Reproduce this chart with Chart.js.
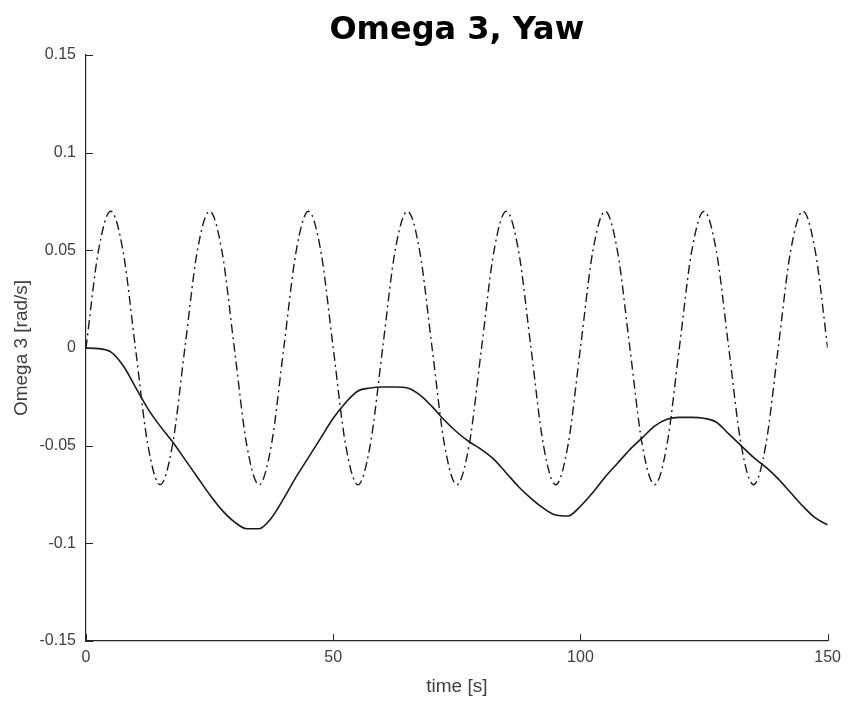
<!DOCTYPE html>
<html>
<head>
<meta charset="utf-8">
<script src="https://cdn.jsdelivr.net/npm/chart.js@4/dist/chart.umd.min.js"></script>
<style>
  html, body { margin: 0; padding: 0; background: #fff; }
  canvas { display: block; }
</style>
</head>
<body>
<canvas id="omegaChart" width="848" height="702"></canvas>
<script>
// time axis samples (s)
const times = [0, 2.5, 5, 7.5, 10, 12.5, 15, 17.5, 20, 22.5, 25, 27.5, 30, 32.5, 35, 37.5, 40, 42.5, 45, 47.5,
  50, 52.5, 55, 57.5, 60, 62.5, 65, 67.5, 70, 72.5, 75, 77.5, 80, 82.5, 85, 87.5, 90, 92.5, 95, 97.5,
  100, 102.5, 105, 107.5, 110, 112.5, 115, 117.5, 120, 122.5, 125, 127.5, 130, 132.5, 135, 137.5, 140, 142.5, 145, 147.5, 150];

// measured yaw rate (solid)
const omegaMeasured = [0, -0.0003, -0.002, -0.009, -0.02, -0.031, -0.04, -0.048, -0.057, -0.066,
  -0.075, -0.083, -0.089, -0.0925, -0.0925, -0.087, -0.077, -0.066, -0.056, -0.046,
  -0.036, -0.028, -0.022, -0.0205, -0.02, -0.02, -0.0205, -0.024, -0.03, -0.037,
  -0.043, -0.048, -0.052, -0.057, -0.064, -0.071, -0.077, -0.082, -0.0855, -0.086,
  -0.081, -0.074, -0.066, -0.059, -0.052, -0.046, -0.04, -0.0365, -0.0355, -0.0355,
  -0.036, -0.038, -0.044, -0.05, -0.056, -0.061, -0.067, -0.074, -0.081, -0.087, -0.0905];

// reference yaw rate (dash-dot)
const omegaReference = [0, 0.0495, 0.07, 0.0495, 0, -0.0495, -0.07, -0.0495, 0, 0.0495,
  0.07, 0.0495, 0, -0.0495, -0.07, -0.0495, 0, 0.0495, 0.07, 0.0495,
  0, -0.0495, -0.07, -0.0495, 0, 0.0495, 0.07, 0.0495, 0, -0.0495,
  -0.07, -0.0495, 0, 0.0495, 0.07, 0.0495, 0, -0.0495, -0.07, -0.0495,
  0, 0.0495, 0.07, 0.0495, 0, -0.0495, -0.07, -0.0495, 0, 0.0495,
  0.07, 0.0495, 0, -0.0495, -0.07, -0.0495, 0, 0.0495, 0.07, 0.0495, 0];

const xTicks = [0, 50, 100, 150];
const yTicks = [-0.15, -0.1, -0.05, 0, 0.05, 0.1, 0.15];

const FONT = '"Liberation Sans", Arial, Helvetica, sans-serif';
const AXIS_COLOR = '#262626';
const TEXT_COLOR = '#404040';

function toPoints(ys) {
  return times.map((t, i) => ({ x: t, y: ys[i] }));
}

// small tick marks pointing into the plot, like matlab
const innerTicks = {
  id: 'innerTicks',
  afterDraw(chart) {
    const { ctx, chartArea, scales } = chart;
    const len = 7;
    ctx.save();
    ctx.strokeStyle = AXIS_COLOR;
    ctx.lineWidth = 1;
    ctx.beginPath();
    xTicks.forEach(v => {
      const px = Math.round(scales.x.getPixelForValue(v)) + 0.5;
      ctx.moveTo(px, chartArea.bottom);
      ctx.lineTo(px, chartArea.bottom - len);
    });
    yTicks.forEach(v => {
      const py = Math.round(scales.y.getPixelForValue(v)) + 0.5;
      ctx.moveTo(chartArea.left, py);
      ctx.lineTo(chartArea.left + len, py);
    });
    ctx.stroke();
    ctx.restore();
  }
};

new Chart(document.getElementById('omegaChart').getContext('2d'), {
  type: 'line',
  data: {
    datasets: [
      {
        label: 'reference',
        data: toPoints(omegaReference),
        borderColor: '#1a1a1a',
        borderWidth: 1.4,
        borderDash: [9, 4, 2, 4],
        pointRadius: 0,
        cubicInterpolationMode: 'monotone',
        fill: false
      },
      {
        label: 'measured',
        data: toPoints(omegaMeasured),
        borderColor: '#1a1a1a',
        borderWidth: 1.6,
        pointRadius: 0,
        cubicInterpolationMode: 'monotone',
        fill: false
      }
    ]
  },
  options: {
    responsive: false,
    animation: false,
    layout: { padding: { left: 0, right: 20, top: 0, bottom: 0 } },
    plugins: {
      legend: { display: false },
      tooltip: { enabled: false },
      title: {
        display: true,
        fullSize: false,
        text: 'Omega 3, Yaw',
        color: '#000',
        font: { family: '"DejaVu Sans", sans-serif', size: 32, weight: 'bold' },
        padding: { top: 11, bottom: 5.6 }
      }
    },
    scales: {
      x: {
        type: 'linear',
        min: 0,
        max: 150,
        afterBuildTicks: s => { s.ticks = xTicks.map(v => ({ value: v })); },
        afterFit: s => { s.height = 61; },
        grid: { display: false, drawTicks: false },
        border: { display: true, color: AXIS_COLOR, width: 1.2 },
        ticks: {
          color: TEXT_COLOR,
          font: { family: FONT, size: 16 },
          padding: 7,
          maxRotation: 0
        },
        title: {
          display: true,
          text: 'time [s]',
          color: TEXT_COLOR,
          font: { family: FONT, size: 19 },
          padding: { top: 0, bottom: 4 }
        }
      },
      y: {
        type: 'linear',
        min: -0.15,
        max: 0.15,
        afterBuildTicks: s => { s.ticks = yTicks.map(v => ({ value: v })); },
        afterFit: s => { s.width = 86; },
        grid: { display: false, drawTicks: false },
        border: { display: true, color: AXIS_COLOR, width: 1.2 },
        ticks: {
          color: TEXT_COLOR,
          font: { family: FONT, size: 16 },
          padding: 10,
          callback: v => String(parseFloat(Number(v).toFixed(2)))
        },
        title: {
          display: true,
          text: 'Omega 3 [rad/s]',
          color: TEXT_COLOR,
          font: { family: FONT, size: 19 },
          padding: { top: 10, bottom: 0 }
        }
      }
    }
  },
  plugins: [innerTicks]
});
</script>
</body>
</html>
